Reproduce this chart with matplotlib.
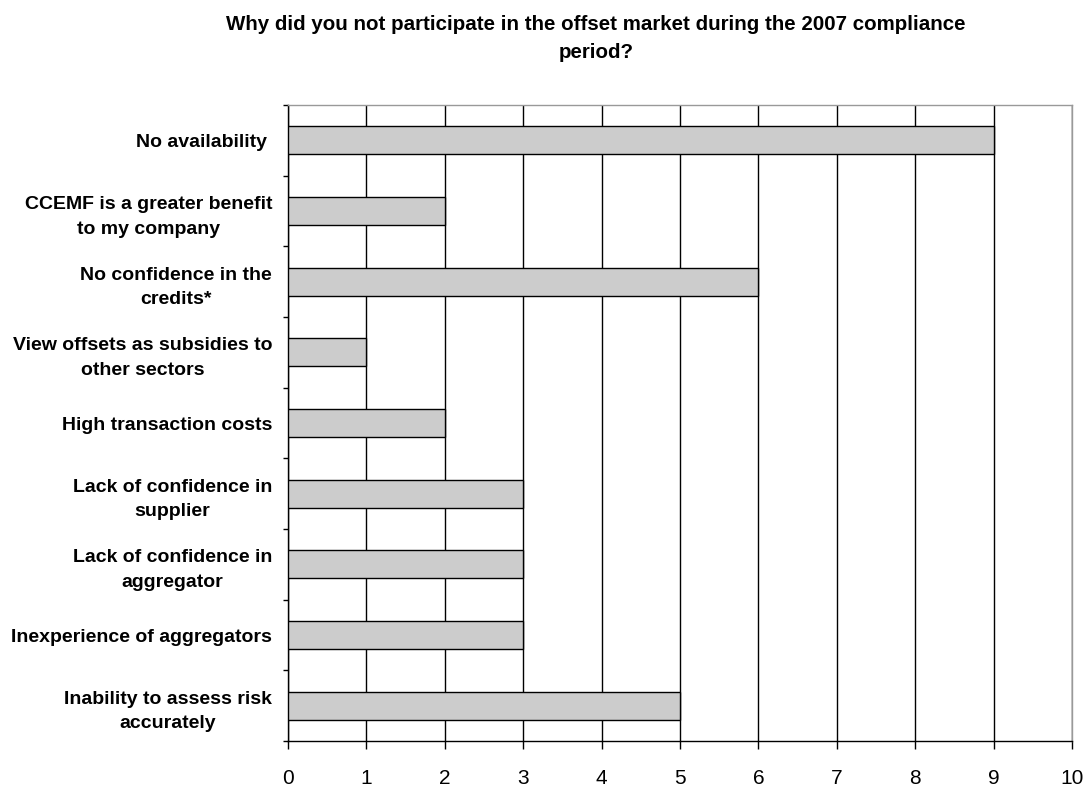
import matplotlib
matplotlib.use("Agg")
import matplotlib.pyplot as plt
import numpy as np

categories = [
    "No availability ",
    "CCEMF is a greater benefit\nto my company",
    "No confidence in the\ncredits*",
    "View offsets as subsidies to\nother sectors",
    "High transaction costs",
    "Lack of confidence in\nsupplier",
    "Lack of confidence in\naggregator",
    "Inexperience of aggregators",
    "Inability to assess risk\naccurately",
]
values = [9, 2, 6, 1, 2, 3, 3, 3, 5]
xticks = list(range(0, 11))
title = "Why did you not participate in the offset market during the 2007 compliance\nperiod?"

plt.rcParams['font.family'] = ['Liberation Sans', 'DejaVu Sans']

fig = plt.figure(figsize=(10.87, 7.91), dpi=100)
ax = fig.add_axes([288/1087, 1-741/791, (1072-288)/1087, (741-105)/791])

n = len(categories)
ypos = np.arange(n)
ax.barh(ypos, values, height=0.4, color="#cccccc", edgecolor="black", linewidth=1.0, zorder=3)
ax.set_ylim(n - 0.5, -0.5)
ax.set_xlim(0, 10)

ax.set_xticks(xticks)
ax.set_xticklabels([str(t) for t in xticks], fontsize=15)
ax.xaxis.grid(True, color="black", linewidth=1.0, zorder=0)
ax.tick_params(axis='x', direction='out', length=5.8, width=1, pad=14)

ax.set_yticks(ypos)
ax.set_yticklabels(categories, fontsize=14, fontweight='bold', multialignment='center', linespacing=1.6)
ax.tick_params(axis='y', which='major', length=0, pad=11.5)
ax.set_yticks(np.arange(-0.5, n + 0.5, 1), minor=True)
ax.tick_params(axis='y', which='minor', direction='out', length=3.6, width=1)

for s in ['top', 'right']:
    ax.spines[s].set_color('#999999')
    ax.spines[s].set_linewidth(1)
for s in ['left', 'bottom']:
    ax.spines[s].set_color('black')
    ax.spines[s].set_linewidth(1)

fig.text(596/1087, 1-39/791, title, ha='center', va='center', fontsize=14.8, fontweight='bold', linespacing=1.6)

fig.savefig("out.png", dpi=100)
